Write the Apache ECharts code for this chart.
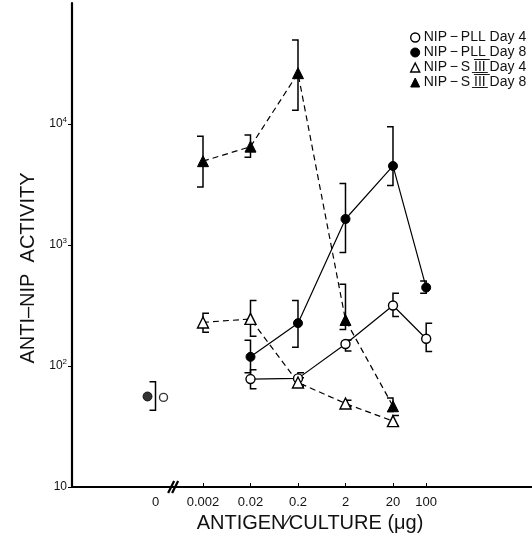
<!DOCTYPE html>
<html><head><meta charset="utf-8">
<script src="https://cdn.jsdelivr.net/npm/echarts@6/dist/echarts.min.js"></script>
<style>html,body{margin:0;padding:0;background:#fff}#c{width:532px;height:541px}</style>
</head><body><div id="c"></div>
<script>
// ---- data ----
const doses = [0.002, 0.02, 0.2, 2, 20, 100];
const zeroDosePos = 0.0002;           // where dose "0" sits left of the axis break
const xTickValues = [zeroDosePos, 0.002, 0.02, 0.2, 2, 20, 100];
const xTickLabels = ['0', '0.002', '0.02', '0.2', '2', '20', '100'];
const yTickValues = [10, 100, 1000, 10000];
const III = 'I\u0305\u0332I\u0305\u0332I\u0305\u0332';
const seriesNames = ['NIP\u2009\u2212\u2009PLL Day 4', 'NIP\u2009\u2212\u2009PLL Day 8',
  'NIP\u2009\u2212\u2009S ' + III + ' Day 4', 'NIP\u2009\u2212\u2009S ' + III + ' Day 8'];

const pllDay4   = [null, 78, 79, 152, 316, 168];
const pllDay4Lo = [null, 65, 70, 133, 257, 132];
const pllDay4Hi = [null, 93, 88, 164, 399, 226];
const pllDay8   = [null, 119, 226, 1640, 4500, 445];
const pllDay8Lo = [null, 88, 143, 867, 3100, 399];
const pllDay8Hi = [null, 163, 347, 3230, 9500, 504];
const s3Day4    = [229, 245, 73, 49, 35, null];
const s3Day4Lo  = [190, 176, 68, 46, 32, null];
const s3Day4Hi  = [273, 347, 80, 52, 39, null];
const s3Day8    = [4930, 6500, 26300, 240, 46.5, null];
const s3Day8Lo  = [3010, 5320, 13000, 200, 42, null];
const s3Day8Hi  = [7930, 8120, 49400, 473, 54.5, null];
const zeroPllDay4 = 55;
const zeroPllDay8 = 56;
const zeroErr = [43, 74];

// ---- chart ----
const FONT = 'Liberation Sans, Arial, Helvetica, sans-serif';
const chart = echarts.init(document.getElementById('c'), null, {renderer: 'canvas'});

function pairs(vals) {
  const out = [];
  vals.forEach((v, i) => { if (v != null) out.push([doses[i], v]); });
  return out;
}
function errData(lo, hi) {
  const out = [];
  lo.forEach((l, i) => { if (l != null && hi[i] != null) out.push([doses[i], l, hi[i]]); });
  return out;
}
function errSeries(name, data, side) {
  return {
    type: 'custom', name: name, data: data, z: 1, silent: true,
    encode: {x: 0, y: [1, 2]},
    renderItem: function (params, api) {
      const x = api.value(0);
      const a = api.coord([x, api.value(1)]);
      const b = api.coord([x, api.value(2)]);
      const cap = 6 * side;
      return {
        type: 'polyline',
        shape: {points: [[a[0] + cap, a[1]], [a[0], a[1]], [b[0], b[1]], [b[0] + cap, b[1]]]},
        style: {stroke: '#000', lineWidth: 1.5, fill: null}
      };
    }
  };
}
const openStyle = {color: '#fff', borderColor: '#000', borderWidth: 1.4};
const fillStyle = {color: '#000', borderColor: '#000', borderWidth: 1};
function lineSeries(name, vals, symbol, size, style, dashed) {
  return {
    type: 'line', name: name, data: pairs(vals), symbol: symbol, symbolSize: size,
    itemStyle: style, z: 3,
    lineStyle: {color: '#000', width: 1.2, type: dashed ? [6, 4] : 'solid'},
    emphasis: {disabled: true}
  };
}

const option = {
  animation: false,
  backgroundColor: '#fff',
  textStyle: {fontFamily: FONT, color: '#111'},
  grid: {left: 72, right: 0, top: 3, bottom: 54},
  legend: {
    orient: 'vertical', left: 405, top: 25, itemGap: 0, itemWidth: 9, itemHeight: 9,
    align: 'left', selectedMode: false,
    textStyle: {fontFamily: FONT, fontSize: 14, color: '#111', lineHeight: 15, padding: [0, 0, 0, -1]},
    data: [
      {name: seriesNames[0], icon: 'circle', itemStyle: openStyle},
      {name: seriesNames[1], icon: 'circle', itemStyle: fillStyle},
      {name: seriesNames[2], icon: 'triangle', itemStyle: openStyle},
      {name: seriesNames[3], icon: 'triangle', itemStyle: fillStyle}
    ]
  },
  xAxis: {
    type: 'log', logBase: 10, min: 3.49e-6, max: 16900,
    name: 'ANTIGEN\u2215CULTURE (\u03bcg)', nameLocation: 'middle', nameGap: 22,
    nameTextStyle: {fontFamily: FONT, fontSize: 20, color: '#111', padding: [0, 0, 0, 16]},
    axisLine: {lineStyle: {color: '#000', width: 1.8}},
    axisTick: {inside: true, length: 4, lineStyle: {color: '#000'}, customValues: doses},
    axisLabel: {
      fontFamily: FONT, fontSize: 13, color: '#111', margin: 9, customValues: xTickValues,
      formatter: function (v) {
        const i = xTickValues.findIndex(t => Math.abs(Math.log10(t) - Math.log10(v)) < 1e-6);
        return i >= 0 ? xTickLabels[i] : '';
      }
    },
    splitLine: {show: false}, minorTick: {show: false}
  },
  yAxis: {
    type: 'log', logBase: 10, min: 10, max: 100000,
    name: 'ANTI\u2013NIP  ACTIVITY', nameLocation: 'middle', nameGap: 34, nameRotate: 90,
    nameTextStyle: {fontFamily: FONT, fontSize: 20, color: '#111', padding: [0, 46, 0, 0]},
    axisLine: {lineStyle: {color: '#000', width: 2.2}},
    axisTick: {inside: false, length: 4, lineStyle: {color: '#000'}, customValues: yTickValues},
    axisLabel: {
      fontFamily: FONT, fontSize: 12, color: '#111', margin: 5, customValues: yTickValues,
      formatter: function (v) {
        const e = Math.round(Math.log10(v));
        return e === 1 ? '10' : '10{s|' + e + '}';
      },
      rich: {s: {fontSize: 8, fontFamily: FONT, color: '#111', padding: [0, 0, 9, 0]}}
    },
    splitLine: {show: false}, minorTick: {show: false}
  },
  series: [
    lineSeries(seriesNames[0], pllDay4, 'circle', 9, openStyle, false),
    lineSeries(seriesNames[1], pllDay8, 'circle', 9, fillStyle, false),
    lineSeries(seriesNames[2], s3Day4, 'triangle', 11, openStyle, true),
    lineSeries(seriesNames[3], s3Day8, 'triangle', 11, fillStyle, true),
    {type: 'scatter', name: seriesNames[0], data: [[zeroDosePos, zeroPllDay4]], symbol: 'circle',
     symbolSize: 8, symbolOffset: [8, 0], itemStyle: openStyle, z: 3},
    {type: 'scatter', name: seriesNames[1], data: [[zeroDosePos, zeroPllDay8]], symbol: 'circle',
     symbolSize: 9, symbolOffset: [-8, 0], itemStyle: fillStyle, z: 3},
    errSeries(seriesNames[0], errData(pllDay4Lo, pllDay4Hi), 1),
    errSeries(seriesNames[1], errData(pllDay8Lo, pllDay8Hi).concat([[zeroDosePos, zeroErr[0], zeroErr[1]]]), -1),
    errSeries(seriesNames[2], errData(s3Day4Lo, s3Day4Hi), 1),
    errSeries(seriesNames[3], errData(s3Day8Lo, s3Day8Hi), -1)
  ]
};
chart.setOption(option);

// axis-break mark "//"
const breakPos = 0.00047;
const bx = chart.convertToPixel({xAxisIndex: 0}, breakPos);
const by = chart.convertToPixel({yAxisIndex: 0}, 10);
chart.setOption({
  graphic: [
    {type: 'line', shape: {x1: bx - 5, y1: by + 6, x2: bx + 1, y2: by - 6}, style: {stroke: '#000', lineWidth: 2.2}, z: 10},
    {type: 'line', shape: {x1: bx - 1, y1: by + 6, x2: bx + 5, y2: by - 6}, style: {stroke: '#000', lineWidth: 2.2}, z: 10}
  ]
});
</script></body></html>
